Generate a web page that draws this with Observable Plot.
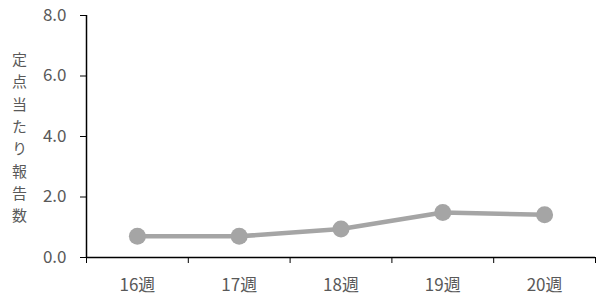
<!DOCTYPE html>
<html>
<head>
<meta charset="utf-8">
<script src="https://cdn.jsdelivr.net/npm/d3@7"></script>
<script src="https://cdn.jsdelivr.net/npm/@observablehq/plot@0.6"></script>
<style>
  html, body { margin: 0; padding: 0; background: #fff; }
  #wrap { position: relative; width: 602px; height: 302px; }
  #ylabel {
    position: absolute; left: 12px; top: 52px;
    writing-mode: vertical-rl; text-orientation: upright;
    font-family: "Noto Sans CJK JP", sans-serif; font-size: 15px;
    letter-spacing: 7.3px; color: #595959; line-height: 1;
  }
</style>
</head>
<body>
<div id="wrap"><div id="ylabel">定点当たり報告数</div></div>
<script>
const weeks = ["16週", "17週", "18週", "19週", "20週"];
const values = [0.70, 0.70, 0.94, 1.49, 1.41];
const yTicks = [0, 2, 4, 6, 8];
const yAxisTitle = "定点当たり報告数";

const data = weeks.map((w, i) => ({idx: i + 1, week: w, value: values[i]}));
const boundaries = d3.range(0.5, weeks.length + 1, 1);
const centers = data.map(d => d.idx);

const chart = Plot.plot({
  width: 602,
  height: 302,
  marginLeft: 86,
  marginRight: 7,
  marginTop: 15,
  marginBottom: 45,
  style: {fontFamily: "'Noto Sans CJK JP', sans-serif", fontSize: "17px", color: "#595959", background: "#fff"},
  x: {type: "linear", domain: [0.5, weeks.length + 0.5]},
  y: {domain: [0, 8]},
  marks: [
    Plot.axisY({ticks: yTicks, tickFormat: d3.format(".1f"), tickSize: 6, tickPadding: 14, label: null, stroke: "#000", fill: "#595959", fontSize: 17}),
    Plot.axisX({ticks: boundaries, tickFormat: () => "", tickSize: 6, label: null, stroke: "#000"}),
    Plot.axisX({ticks: centers, tickFormat: d => weeks[d - 1], tickSize: 0, tickPadding: 21, label: null, fill: "#595959", fontSize: 17}),
    Plot.ruleX([0.5], {stroke: "#000", strokeWidth: 1.5}),
    Plot.ruleY([0], {stroke: "#000", strokeWidth: 1.5}),
    Plot.line(data, {x: "idx", y: "value", stroke: "#A5A5A5", strokeWidth: 4.5}),
    Plot.dot(data, {x: "idx", y: "value", r: 8.5, fill: "#A5A5A5", stroke: "none"})
  ]
});
document.getElementById("wrap").appendChild(chart);
</script>
</body>
</html>
